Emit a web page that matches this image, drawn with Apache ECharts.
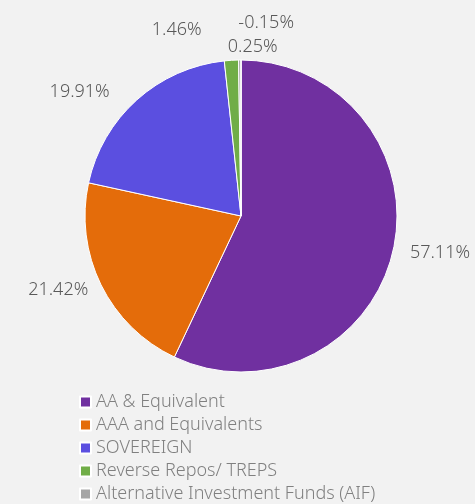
<!DOCTYPE html>
<html>
<head>
	<meta charset="UTF-8">
	<script type="text/javascript" src="https://cdn.jsdelivr.net/npm/echarts@6/dist/echarts.min.js"></script>
	<title></title>
	<style type="text/css">
		html, body{
			margin:0;
			padding:0;
			background:#f2f2f2;
		}
		#pie_box{
			width:475px;
			height:504px;
		}
	</style>
</head>
<body>
<div id="pie_box"></div>
<script type="text/javascript">
// 数据
var categories = ['AA & Equivalent', 'AAA and Equivalents', 'SOVEREIGN', 'Reverse Repos/ TREPS', 'Alternative Investment Funds (AIF)', 'Net Current Assets'];
var values = [57.11, 21.42, 19.91, 1.46, 0.25, -0.15];
var colors = ['#7030a0', '#e46c0a', '#5b4fe0', '#70ad47', '#a5a5a5', '#4472c4'];

var pieData = [];
for (var i = 0; i < categories.length; i++) {
	pieData.push({
		name: categories[i],
		value: Math.max(0, values[i]),
		raw: values[i],
		itemStyle: {color: colors[i]}
	});
}

// 标签微调（像excel那样错开小扇区的标签）
var labelNudge = [[0, 0], [3, 0], [-14, 1], [-24, -18], [43, -1], [58, -25]];

var pie_box = echarts.init(document.getElementById('pie_box'));
var option = {
	backgroundColor: '#f2f2f2',
	animation: false,
	legend: {
		orient: 'vertical',
		left: 74,
		top: 388,
		height: 300,
		itemWidth: 11,
		itemHeight: 11,
		itemGap: 5,
		icon: 'rect',
		textStyle: {
			fontFamily: 'Noto Sans',
			fontWeight: 300,
			fontSize: 18,
			lineHeight: 18,
			color: '#808080'
		},
		data: categories
	},
	series: [
		{
			type: 'pie',
			center: [241, 216],
			radius: [0, 156],
			startAngle: 90,
			clockwise: true,
			avoidLabelOverlap: false,
			label: {
				show: true,
				position: 'outside',
				overflow: 'none',
				fontFamily: 'Noto Sans',
				fontWeight: 300,
				fontSize: 18,
				color: '#595959',
				formatter: function (p) {
					return p.data.raw.toFixed(2) + '%';
				}
			},
			labelLine: {
				show: false,
				length: 12,
				length2: 0
			},
			labelLayout: function (p) {
				var n = labelNudge[p.dataIndex];
				return {dx: n[0], dy: n[1]};
			},
			itemStyle: {
				borderColor: '#ffffff',
				borderWidth: 1
			},
			data: pieData
		}
	]
};
pie_box.setOption(option);
</script>
</body>
</html>
